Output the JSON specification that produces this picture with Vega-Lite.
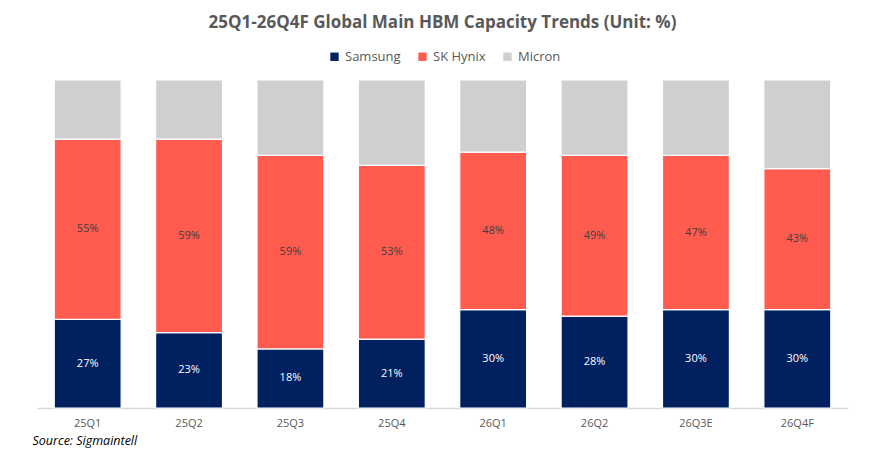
{
  "$schema": "https://vega.github.io/schema/vega-lite/v6.json",
  "width": 811,
  "height": 328,
  "autosize": "none",
  "padding": {"left": 37, "top": 80, "right": 43, "bottom": 60},
  "background": "white",
  "title": {
    "text": "25Q1-26Q4F Global Main HBM Capacity Trends (Unit: %)",
    "font": "Open Sans",
    "fontSize": 17,
    "fontWeight": "bold",
    "color": "#595959",
    "anchor": "middle",
    "offset": 18
  },
  "data": {
    "values": [
      {"q": "25Q1", "maker": "Samsung", "ord": 1, "share": 27},
      {"q": "25Q1", "maker": "SK Hynix", "ord": 2, "share": 55},
      {"q": "25Q1", "maker": "Micron", "ord": 3, "share": 18},
      {"q": "25Q2", "maker": "Samsung", "ord": 1, "share": 23},
      {"q": "25Q2", "maker": "SK Hynix", "ord": 2, "share": 59},
      {"q": "25Q2", "maker": "Micron", "ord": 3, "share": 18},
      {"q": "25Q3", "maker": "Samsung", "ord": 1, "share": 18},
      {"q": "25Q3", "maker": "SK Hynix", "ord": 2, "share": 59},
      {"q": "25Q3", "maker": "Micron", "ord": 3, "share": 23},
      {"q": "25Q4", "maker": "Samsung", "ord": 1, "share": 21},
      {"q": "25Q4", "maker": "SK Hynix", "ord": 2, "share": 53},
      {"q": "25Q4", "maker": "Micron", "ord": 3, "share": 26},
      {"q": "26Q1", "maker": "Samsung", "ord": 1, "share": 30},
      {"q": "26Q1", "maker": "SK Hynix", "ord": 2, "share": 48},
      {"q": "26Q1", "maker": "Micron", "ord": 3, "share": 22},
      {"q": "26Q2", "maker": "Samsung", "ord": 1, "share": 28},
      {"q": "26Q2", "maker": "SK Hynix", "ord": 2, "share": 49},
      {"q": "26Q2", "maker": "Micron", "ord": 3, "share": 23},
      {"q": "26Q3E", "maker": "Samsung", "ord": 1, "share": 30},
      {"q": "26Q3E", "maker": "SK Hynix", "ord": 2, "share": 47},
      {"q": "26Q3E", "maker": "Micron", "ord": 3, "share": 23},
      {"q": "26Q4F", "maker": "Samsung", "ord": 1, "share": 30},
      {"q": "26Q4F", "maker": "SK Hynix", "ord": 2, "share": 43},
      {"q": "26Q4F", "maker": "Micron", "ord": 3, "share": 27}
    ]
  },
  "transform": [
    {"stack": "share", "groupby": ["q"], "sort": [{"field": "ord"}], "as": ["s0", "s1"]},
    {"calculate": "(datum.s0 + datum.s1) / 2", "as": "mid"},
    {"calculate": "datum.share + '%'", "as": "label"}
  ],
  "encoding": {
    "x": {
      "field": "q",
      "type": "nominal",
      "sort": null,
      "scale": {"paddingInner": 0.34, "paddingOuter": 0.17},
      "axis": {
        "title": "Source: Sigmaintell",
        "titleFont": "Open Sans",
        "titleFontSize": 12.5,
        "titleFontStyle": "italic",
        "titleFontWeight": "normal",
        "titleColor": "#000000",
        "titleAlign": "left",
        "titleAnchor": "start",
        "titleBaseline": "middle",
        "titleX": -5,
        "titleY": 32,
        "labelAngle": 0,
        "labelFont": "Open Sans",
        "labelFontSize": 11,
        "labelColor": "#595959",
        "labelPadding": 9,
        "ticks": false,
        "domainColor": "#D9D9D9",
        "domainWidth": 1.5,
        "grid": false
      }
    }
  },
  "layer": [
    {
      "mark": {"type": "bar", "stroke": "white", "strokeWidth": 1.2},
      "encoding": {
        "y": {"field": "s0", "type": "quantitative", "scale": {"domain": [0, 100]}, "axis": null},
        "y2": {"field": "s1"},
        "color": {
          "field": "maker",
          "type": "nominal",
          "scale": {"domain": ["Samsung", "SK Hynix", "Micron"], "range": ["#002060", "#FF5B4F", "#D0CECE"]},
          "legend": {
            "title": null,
            "orient": "none",
            "direction": "horizontal",
            "legendX": 291,
            "legendY": -30,
            "symbolType": "square",
            "symbolSize": 70,
            "symbolStrokeWidth": 0,
            "labelFont": "Open Sans",
            "labelFontSize": 13,
            "labelColor": "#595959",
            "columnPadding": 15
          }
        }
      }
    },
    {
      "transform": [{"filter": "datum.maker !== 'Micron'"}],
      "mark": {"type": "text", "font": "Open Sans", "fontSize": 11, "baseline": "middle"},
      "encoding": {
        "y": {"field": "mid", "type": "quantitative", "scale": {"domain": [0, 100]}},
        "text": {"field": "label", "type": "nominal"},
        "color": {
          "condition": {"test": "datum.maker === 'Samsung'", "value": "white"},
          "value": "#404040"
        }
      }
    }
  ],
  "config": {"view": {"stroke": null}}
}
